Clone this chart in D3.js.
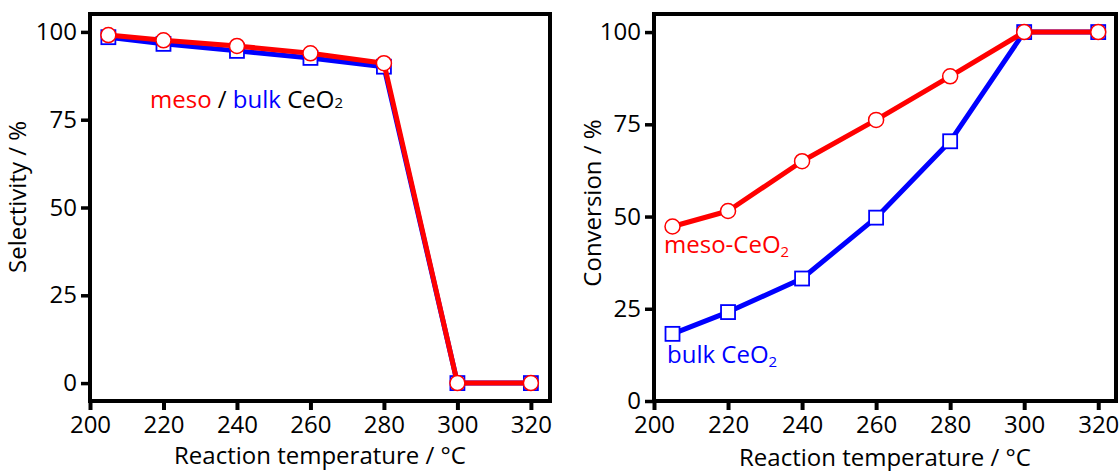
<!DOCTYPE html>
<html>
<head>
<meta charset="utf-8">
<script src="https://cdn.jsdelivr.net/npm/d3@7"></script>
<style>
  body { margin: 0; background: #fff; }
  svg { display: block; font-family: "Open Sans", sans-serif; }
</style>
</head>
<body>
<svg id="chart" width="1120" height="471"></svg>
<script>
// temperatures (°C)
const temps = [205, 220, 240, 260, 280, 300, 320];
const xTicks = [200, 220, 240, 260, 280, 300, 320];
const yTicks = [0, 25, 50, 75, 100];

// selectivity (%)
const selMeso = [99.1, 97.6, 96.0, 93.9, 91.1, 0, 0];
const selBulk = [98.5, 96.6, 94.6, 92.6, 90.1, 0, 0];

// conversion (%)
const convMeso = [47.3, 51.5, 65.0, 76.2, 88.0, 100, 100];
const convBulk = [18.2, 24.1, 33.2, 49.7, 70.4, 100, 100];

const RED = "#ff0000", BLUE = "#0000ff";

const svg = d3.select("#chart");

function draw_panel(cfg) {
  const x = d3.scaleLinear().domain(cfg.xDomain).range(cfg.xRange);
  const y = d3.scaleLinear().domain(cfg.yDomain).range(cfg.yRange);
  const g = svg.append("g");

  // x axis
  g.append("g")
    .attr("transform", `translate(0,${cfg.yRange[0]})`)
    .call(d3.axisBottom(x).tickValues(xTicks).tickSize(9).tickPadding(6).tickSizeOuter(0))
    .call(a => a.select(".domain").remove())
    .call(a => a.selectAll("line").attr("stroke", "#000").attr("stroke-width", 4))
    .call(a => a.selectAll("text").attr("font-size", 24).attr("fill", "#000")
      .attr("font-family", "Open Sans"));

  // y axis
  g.append("g")
    .attr("transform", `translate(${cfg.xRange[0]},0)`)
    .call(d3.axisLeft(y).tickValues(yTicks).tickSize(9).tickPadding(4).tickSizeOuter(0))
    .call(a => a.select(".domain").remove())
    .call(a => a.selectAll("line").attr("stroke", "#000").attr("stroke-width", 3.5))
    .call(a => a.selectAll("text").attr("font-size", 24).attr("fill", "#000")
      .attr("font-family", "Open Sans"));

  // frame
  g.append("rect")
    .attr("x", cfg.xRange[0])
    .attr("y", cfg.yRange[1])
    .attr("width", cfg.xRange[1] - cfg.xRange[0])
    .attr("height", cfg.yRange[0] - cfg.yRange[1])
    .attr("fill", "none")
    .attr("stroke", "#000")
    .attr("stroke-width", 4);

  // axis titles
  g.append("text")
    .attr("x", (cfg.xRange[0] + cfg.xRange[1]) / 2)
    .attr("y", cfg.xTitleY)
    .attr("text-anchor", "middle")
    .attr("font-size", 24)
    .text("Reaction temperature / °C");

  g.append("text")
    .attr("transform", `translate(${cfg.yTitleX},${cfg.yTitleCy}) rotate(-90)`)
    .attr("text-anchor", "middle")
    .attr("font-size", 24)
    .text(cfg.yTitle);

  const line = d3.line()
    .x(d => x(d[0]))
    .y(d => y(d[1]));

  // bulk first, meso on top
  const bulk = temps.map((t, i) => [t, cfg.bulk[i]]);
  const meso = temps.map((t, i) => [t, cfg.meso[i]]);

  g.append("path")
    .datum(bulk)
    .attr("d", line)
    .attr("fill", "none")
    .attr("stroke", BLUE)
    .attr("stroke-width", 5)
    .attr("stroke-linejoin", "round");

  g.selectAll(".sq")
    .data(bulk)
    .join("rect")
    .attr("class", "sq")
    .attr("x", d => x(d[0]) - 7)
    .attr("y", d => y(d[1]) - 7)
    .attr("width", 14)
    .attr("height", 14)
    .attr("fill", "#fff")
    .attr("stroke", BLUE)
    .attr("stroke-width", 1.8);

  g.append("path")
    .datum(meso)
    .attr("d", line)
    .attr("fill", "none")
    .attr("stroke", RED)
    .attr("stroke-width", 5)
    .attr("stroke-linejoin", "round");

  g.selectAll(".ci")
    .data(meso)
    .join("circle")
    .attr("class", "ci")
    .attr("cx", d => x(d[0]))
    .attr("cy", d => y(d[1]))
    .attr("r", 7.5)
    .attr("fill", "#fff")
    .attr("stroke", RED)
    .attr("stroke-width", 1.5);

  return g;
}

// left: selectivity
const left = draw_panel({
  xDomain: [200, 325.2], xRange: [90, 550],
  yDomain: [-5.1, 105.1], yRange: [401, 14],
  meso: selMeso, bulk: selBulk,
  yTitle: "Selectivity / %", yTitleX: 26, yTitleCy: 197, xTitleY: 464
});

const note = left.append("text")
  .attr("x", 150)
  .attr("y", 108)
  .attr("font-size", 24);
note.append("tspan").attr("fill", RED).text("meso");
note.append("tspan").attr("fill", "#000").text(" / ");
note.append("tspan").attr("fill", BLUE).text("bulk");
note.append("tspan").attr("fill", "#000").text(" CeO");
note.append("tspan").attr("fill", "#000").attr("font-size", 15).text("2");

// right: conversion
const right = draw_panel({
  xDomain: [200, 324.8], xRange: [654, 1116],
  yDomain: [0, 104.9], yRange: [401, 14],
  meso: convMeso, bulk: convBulk,
  yTitle: "Conversion / %", yTitleX: 601, yTitleCy: 203, xTitleY: 466
});

function label(g, x, y, color, txt) {
  const t = g.append("text")
    .attr("x", x)
    .attr("y", y)
    .attr("font-size", 24)
    .attr("fill", color);
  t.append("tspan").text(txt);
  t.append("tspan").attr("font-size", 15).attr("dy", 4).text("2");
}
label(right, 664, 253, RED, "meso-CeO");
label(right, 667, 363, BLUE, "bulk CeO");
</script>
</body>
</html>
